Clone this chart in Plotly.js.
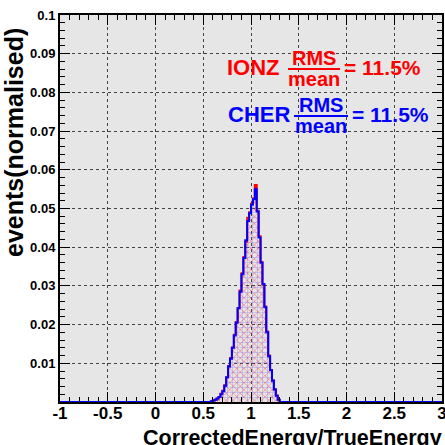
<!DOCTYPE html>
<html>
<head>
<meta charset="utf-8">
<script src="https://cdn.plot.ly/plotly-3.0.1.min.js"></script>
<style>
  html, body { margin: 0; padding: 0; background: #ffffff; }
  #chart { width: 445px; height: 445px; }
</style>
</head>
<body>
<div id="chart"></div>
<script>
// Histogram binning (fixed-width bins starting at binLow)
const binLow = 0.58;
const binWidth = 0.02;

// Normalised bin contents, ionisation-based energy estimate
const ionzValues = [
  0.0002, 0.0004, 0.0006, 0.0009, 0.0013, 0.0021, 0.0029, 0.0043, 0.0063, 0.0093,
  0.0114, 0.0141, 0.0174, 0.0207, 0.0243, 0.0288, 0.0333, 0.0375, 0.0414, 0.0476,
  0.0490, 0.0512, 0.0526, 0.0561, 0.0494, 0.0428, 0.0362, 0.0303, 0.0247, 0.0182,
  0.0120, 0.0083, 0.0056, 0.0033, 0.0017, 0.0006
];

// Normalised bin contents, Cherenkov-based energy estimate
const cherValues = [
  0.0002, 0.0004, 0.0006, 0.0009, 0.0013, 0.0020, 0.0028, 0.0042, 0.0064, 0.0092,
  0.0112, 0.0140, 0.0172, 0.0205, 0.0242, 0.0285, 0.0330, 0.0372, 0.0418, 0.0468,
  0.0488, 0.0510, 0.0524, 0.0550, 0.0492, 0.0425, 0.0360, 0.0305, 0.0245, 0.0180,
  0.0118, 0.0082, 0.0055, 0.0032, 0.0016, 0.0006
];

const xRange = [-1, 3];
const yRange = [0, 0.1];
const xTickVals = [-1, -0.5, 0, 0.5, 1, 1.5, 2, 2.5, 3];
const xTickText = ['-1', '-0.5', '0', '0.5', '1', '1.5', '2', '2.5', '3'];
const yTickVals = [0.01, 0.02, 0.03, 0.04, 0.05, 0.06, 0.07, 0.08, 0.09, 0.1];
const yTickText = ['0.01', '0.02', '0.03', '0.04', '0.05', '0.06', '0.07', '0.08', '0.09', '0.1'];

const labelFont = 'Liberation Sans, Arial, Helvetica, sans-serif';

// Build a step outline (bin edges -> contents) spanning the full x range
function stepOutline(values) {
  const xs = [xRange[0]];
  const ys = [0];
  values.forEach((v, i) => {
    xs.push(+(binLow + i * binWidth).toFixed(4));
    ys.push(v);
  });
  xs.push(+(binLow + values.length * binWidth).toFixed(4));
  ys.push(0);
  xs.push(xRange[1]);
  ys.push(0);
  return { xs, ys };
}

const ionz = stepOutline(ionzValues);
const cher = stepOutline(cherValues);

const traces = [
  {
    type: 'scatter', mode: 'lines', name: 'IONZ',
    x: ionz.xs, y: ionz.ys,
    line: { shape: 'hv', color: '#ff0000', width: 2 },
    fill: 'tozeroy',
    fillcolor: 'rgba(0,0,0,0)',
    fillpattern: { shape: 'x', fgcolor: 'rgba(255,40,40,0.7)', bgcolor: 'rgba(0,0,0,0)', size: 5, solidity: 0.2 },
    hoverinfo: 'skip'
  },
  {
    type: 'scatter', mode: 'lines', name: 'CHER',
    x: cher.xs, y: cher.ys,
    line: { shape: 'hv', color: '#0000ff', width: 2 },
    fill: 'tozeroy',
    fillcolor: 'rgba(0,0,0,0)',
    fillpattern: { shape: '+', fgcolor: 'rgba(80,80,255,0.45)', bgcolor: 'rgba(0,0,0,0)', size: 5, solidity: 0.18 },
    hoverinfo: 'skip'
  }
];

// pixel helpers for placing the RMS/mean labels inside the frame
const frame = { l: 60, r: 442, t: 15, b: 402 };
const px = v => (v - frame.l) / (frame.r - frame.l);
const py = v => (frame.b - v) / (frame.b - frame.t);

function ratioLabel(name, color, y0, nameX, fracX, fracW, eqX) {
  const f = (size) => ({ family: labelFont, size: size, color: color, weight: 'bold' });
  return {
    annotations: [
      { text: name, x: px(nameX), y: py(y0), xanchor: 'left', yanchor: 'middle', font: f(22) },
      { text: 'RMS', x: px(fracX + fracW / 2), y: py(y0 - 9), xanchor: 'center', yanchor: 'middle', font: f(20) },
      { text: 'mean', x: px(fracX + fracW / 2), y: py(y0 + 12), xanchor: 'center', yanchor: 'middle', font: f(20) },
      { text: '= 11.5%', x: px(eqX), y: py(y0), xanchor: 'left', yanchor: 'middle', font: f(21) }
    ],
    shape: {
      type: 'line', xref: 'paper', yref: 'paper',
      x0: px(fracX), x1: px(fracX + fracW), y0: py(y0 + 2), y1: py(y0 + 2),
      line: { color: color, width: 2 }
    }
  };
}

const red = ratioLabel('IONZ', '#ff0000', 67, 225, 288, 52, 342);
const blue = ratioLabel('CHER', '#0000ff', 114, 226, 294, 54, 350);

const annotations = [
  ...red.annotations.map(a => Object.assign({ xref: 'paper', yref: 'paper', showarrow: false }, a)),
  ...blue.annotations.map(a => Object.assign({ xref: 'paper', yref: 'paper', showarrow: false }, a)),
  {
    text: 'CorrectedEnergy/TrueEnergy', xref: 'paper', yref: 'paper',
    x: px(444), y: py(438), xanchor: 'right', yanchor: 'middle', showarrow: false,
    font: { family: labelFont, size: 21.5, color: '#000', weight: 'bold' }
  },
  {
    text: 'events(normalised)', xref: 'paper', yref: 'paper', textangle: -90,
    x: px(14), y: py(143), xanchor: 'center', yanchor: 'middle', showarrow: false,
    font: { family: labelFont, size: 25, color: '#000', weight: 'bold' }
  }
];

const axisCommon = {
  ticks: 'inside', tickcolor: '#000', tickwidth: 1,
  showline: true, linecolor: '#000', linewidth: 2, mirror: 'ticks',
  showgrid: true, gridcolor: '#444', gridwidth: 1, griddash: 'dot',
  zeroline: false, fixedrange: true, ticklabeloverflow: 'allow'
};

const layout = {
  width: 445, height: 445,
  margin: { l: frame.l, r: 445 - frame.r, t: frame.t, b: 445 - frame.b },
  paper_bgcolor: '#ffffff',
  plot_bgcolor: '#e6e6e6',
  showlegend: false,
  xaxis: Object.assign({}, axisCommon, {
    range: xRange, tickmode: 'array', tickvals: xTickVals, ticktext: xTickText,
    ticklen: 10, ticklabelstandoff: -5,
    minor: { tickmode: 'linear', tick0: -1, dtick: 0.1, ticks: 'inside', ticklen: 5, tickcolor: '#000', showgrid: false },
    tickfont: { family: labelFont, size: 17, color: '#000', weight: 'bold' }
  }),
  yaxis: Object.assign({}, axisCommon, {
    range: yRange, tickmode: 'array', tickvals: yTickVals, ticktext: yTickText,
    ticklen: 10,
    minor: { tickmode: 'linear', tick0: 0, dtick: 0.002, ticks: 'inside', ticklen: 5, tickcolor: '#000', showgrid: false },
    tickfont: { family: labelFont, size: 13, color: '#000', weight: 'bold' }
  }),
  annotations: annotations,
  shapes: [red.shape, blue.shape]
};

Plotly.newPlot('chart', traces, layout, { displayModeBar: false, staticPlot: true });
</script>
</body>
</html>
